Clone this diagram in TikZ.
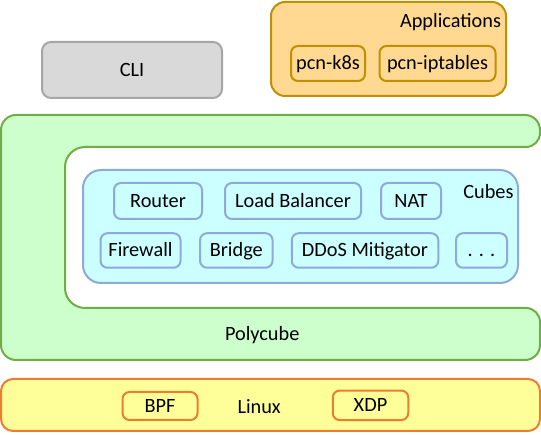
\documentclass[tikz,border=0pt]{standalone}
\usepackage{fontspec}
\setmainfont{Carlito}
\definecolor{grfill}{HTML}{CCFFCC}
\definecolor{grline}{HTML}{70AD47}
\definecolor{cbfill}{HTML}{CCFFFF}
\definecolor{cbline}{HTML}{8EA9DB}
\definecolor{apfill}{HTML}{FFD992}
\definecolor{apline}{HTML}{BF9000}
\definecolor{clifill}{HTML}{D9D9D9}
\definecolor{cliline}{HTML}{A6A6A6}
\definecolor{lxfill}{HTML}{FFFF99}
\definecolor{lxline}{HTML}{ED7D31}
\begin{document}
\begin{tikzpicture}[x=1pt,y=-1pt,
  font=\fontsize{20.3}{24}\selectfont,
  every node/.style={inner sep=0pt,outer sep=0pt,text height=13pt,text depth=0pt},
  bx/.style={rectangle,rounded corners=7pt,line width=2pt},
  cubebox/.style={bx,draw=cbline,fill=cbfill},
  appbox/.style={bx,draw=apline,fill=apfill},
  lxbox/.style={bx,draw=lxline,fill=lxfill},
  lbl/.style={}]
\useasboundingbox (0,0) rectangle (541,435);
% CLI
\node[bx,rounded corners=9pt,draw=cliline,fill=clifill,minimum width=180pt,minimum height=56pt] (cli) at (132,70) {CLI};
% Applications
\node[bx,rounded corners=14pt,draw=apline,fill=apfill,minimum width=235pt,minimum height=94pt] (apps) at (388.5,49) {};
\node[lbl,anchor=east] (appslbl) at (501,21.5) {Applications};
\node[appbox,minimum width=74pt,minimum height=35pt] (k8s) at (328,63.5) {pcn-k8s};
\node[appbox,minimum width=116pt,minimum height=35pt] (ipt) at (437.5,63.5) {pcn-iptables};
% Polycube C-shape
\draw[line width=2pt,draw=grline,fill=grfill]
  (1,240) [rounded corners=15pt] -- (1,115) -- (540,115) [rounded corners=14pt] -- (540,147)
  [rounded corners=20pt] -- (65,147) -- (65,308) [rounded corners=14pt] -- (540,308)
  [rounded corners=15pt] -- (540,360) -- (1,360) -- cycle;
\node[lbl,anchor=west] (poly) at (225,334.5) {Polycube};
% Cubes
\node[bx,rounded corners=18pt,draw=cbline,fill=cbfill,minimum width=435pt,minimum height=113pt] (cubes) at (300.5,226.5) {};
\node[lbl,anchor=east] (cubeslbl) at (513.5,192.5) {Cubes};
\node[cubebox,minimum width=88pt,minimum height=36pt] (router) at (158,201) {Router};
\node[cubebox,minimum width=136pt,minimum height=36pt] (lb) at (293,201) {Load Balancer};
\node[cubebox,minimum width=60pt,minimum height=36pt] (nat) at (411,201) {NAT};
\node[cubebox,minimum width=80pt,minimum height=34.5pt] (fw) at (140.5,250.5) {Firewall};
\node[cubebox,minimum width=72.5pt,minimum height=34.5pt] (bridge) at (236.3,250.5) {Bridge};
\node[cubebox,minimum width=146.5pt,minimum height=34.5pt] (ddos) at (365,250.5) {DDoS Mitigator};
\node[cubebox,minimum width=51pt,minimum height=34.5pt] (more) at (481.5,250.5) {. . .};
% Linux
\node[bx,rounded corners=12pt,draw=lxline,fill=lxfill,minimum width=539pt,minimum height=52pt] (linux) at (270.5,405) {};
\node[lbl,anchor=west] (linuxlbl) at (237.5,407) {Linux};
\node[lxbox,minimum width=75pt,minimum height=28pt] (bpf) at (160,406) {BPF};
\node[lxbox,minimum width=75.5pt,minimum height=29.5pt] (xdp) at (370.5,405.3) {XDP};
\end{tikzpicture}
\end{document}
